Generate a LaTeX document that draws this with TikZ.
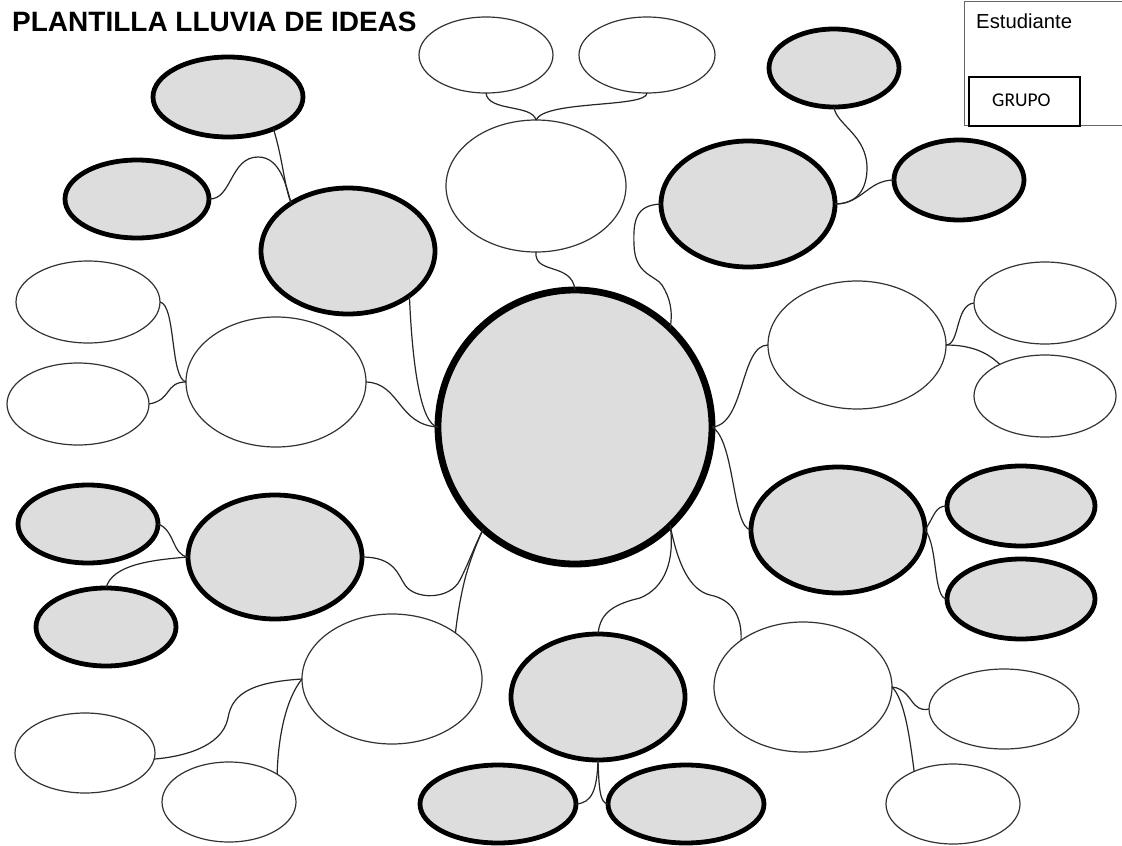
\documentclass[tikz,border=0pt]{standalone}
\usepackage{fontspec}
\setmainfont{Liberation Sans}
\newfontfamily\calib{Carlito}
\usetikzlibrary{shapes.geometric}
\begin{document}
\begin{tikzpicture}[x=1pt,y=-1pt,
  thinell/.style={ellipse, draw=black!80, line width=1.2pt, fill=white, inner sep=0pt, outer sep=0pt},
  grayell/.style={ellipse, draw=black, line width=4.8pt, fill=gray!27, inner sep=0pt, outer sep=0pt},
  link/.style={draw=black!85, line width=1.2pt},
  sz/.style 2 args={minimum width=#1pt, minimum height=#2pt}]
\useasboundingbox (0,0) rectangle (1122,846);
\fill[white] (0,0) rectangle (1122,846);

% title and box
\node[anchor=base west, font=\bfseries\fontsize{28}{32}\selectfont, inner sep=0pt] (title) at (12,31) {PLANTILLA LLUVIA DE IDEAS};
\node[draw=black!60, line width=1pt, minimum width=162pt, minimum height=124pt, anchor=north west, inner sep=0pt] (box) at (964,1) {};
\node[anchor=base west, font=\fontsize{20.3}{24}\selectfont, inner sep=0pt] (stud) at (976,28) {Estudiante};
\node[draw=black, line width=2pt, minimum width=111pt, minimum height=49pt, anchor=north west, inner sep=0pt] (grpbox) at (968,76) {};
\node[anchor=base west, font=\calib\fontsize{19.5}{23}\selectfont, inner sep=0pt] (grp) at (992,106) {GRUPO};

% central
\node[ellipse, draw=black, line width=6.8pt, fill=gray!27, inner sep=0pt, outer sep=0pt, sz={274}{274}] (C) at (575,427) {};

% top
\node[thinell, sz={134}{76}] (TA) at (486,55) {};
\node[thinell, sz={136}{76}] (TB) at (647,55) {};
\node[thinell, sz={180}{132}] (MT) at (536,186) {};
% top left
\node[grayell, sz={150}{80}] (G1) at (228,97) {};
\node[grayell, sz={144}{78}] (G2) at (137,199) {};
\node[grayell, sz={174}{126}] (G3) at (348,251) {};
% top right
\node[grayell, sz={130}{78}] (G4) at (834,68) {};
\node[grayell, sz={174}{126}] (G5) at (748,204) {};
\node[grayell, sz={130}{80}] (G6) at (959,180) {};
% left
\node[thinell, sz={144}{82}] (WLT) at (88,302) {};
\node[thinell, sz={142}{82}] (WLB) at (78,404) {};
\node[thinell, sz={180}{130}] (WLM) at (276,382) {};
% right
\node[thinell, sz={178}{128}] (WR) at (857,345) {};
\node[thinell, sz={142}{82}] (WRT) at (1045,303) {};
\node[thinell, sz={142}{82}] (WRB) at (1045,396) {};
\node[grayell, sz={174}{126}] (GR) at (838,530) {};
\node[grayell, sz={148}{80}] (GRT) at (1021,506) {};
\node[grayell, sz={148}{80}] (GRB) at (1021,599) {};
% lower left
\node[grayell, sz={140}{78}] (GL) at (88,524) {};
\node[grayell, sz={174}{124}] (GL2) at (275,557) {};
\node[grayell, sz={140}{78}] (GL3) at (106,627) {};
\node[thinell, sz={180}{130}] (WL) at (392,679) {};
\node[thinell, sz={140}{80}] (W1) at (85,753) {};
\node[thinell, sz={134}{80}] (W2) at (229,802) {};
% bottom
\node[grayell, sz={174}{126}] (GB) at (598,697) {};
\node[grayell, sz={156}{78}] (GB1) at (498,804) {};
\node[grayell, sz={156}{78}] (GB2) at (686,804) {};
\node[thinell, sz={178}{130}] (WB) at (803,687) {};
\node[thinell, sz={150}{80}] (W3) at (1004,709) {};
\node[thinell, sz={134}{80}] (WBB) at (953,804) {};

% connectors
\draw[link] (TA.south) .. controls (488,112) and (532,104) .. (MT.north);
\draw[link] (TB.south) .. controls (647,108) and (545,100) .. (MT.north);
\draw[link] (MT.south) .. controls (534,275) and (572,262) .. (C.north);
\draw[link] (G5.west) .. controls (636,205) and (633,220) .. (634,245) .. controls (635,275) and (655,275) .. (662,285) .. controls (670,298) and (673,310) .. (C.46);
\draw[link] (G3.-36) .. controls (412,360) and (420,425) .. (C.180);
\draw[link] (WLM.east) .. controls (400,383) and (398,425) .. (C.180);
\draw[link] (WLT.east) .. controls (176,305) and (170,378) .. (WLM.west);
\draw[link] (WLB.east) .. controls (172,400) and (165,382) .. (WLM.west);
\draw[link] (G1.-35) .. controls (283,160) and (284,185) .. (G3.140);
\draw[link] (G2.east) .. controls (232,200) and (230,157) .. (258,157) .. controls (280,157) and (286,185) .. (G3.140);
\draw[link] (G4.south) .. controls (836,125) and (868,135) .. (867,170) .. controls (866,195) and (852,204) .. (G5.east);
\draw[link] (G6.west) .. controls (868,180) and (862,204) .. (G5.east);
\draw[link] (WR.west) .. controls (740,345) and (745,425) .. (C.east);
\draw[link] (WR.east) .. controls (960,345) and (955,305) .. (WRT.west);
\draw[link] (WR.east) .. controls (975,345) and (990,355) .. (WRB.145);
\draw[link] (C.east) .. controls (735,440) and (732,528) .. (GR.west);
\draw[link] (GR.east) .. controls (935,515) and (935,506) .. (GRT.west);
\draw[link] (GR.east) .. controls (938,545) and (933,599) .. (GRB.west);
\draw[link] (GL.east) .. controls (175,530) and (172,555) .. (GL2.west);
\draw[link] (GL3.north) .. controls (112,565) and (150,560) .. (GL2.west);
\draw[link] (GL2.east) .. controls (395,557) and (398,575) .. (405,585) .. controls (415,600) and (450,600) .. (460,580) .. controls (470,560) and (475,545) .. (C.228);
\draw[link] (WL.36) .. controls (458,610) and (462,590) .. (466,575) .. controls (472,555) and (476,545) .. (C.228);
\draw[link] (WL.west) .. controls (255,682) and (232,692) .. (228,718) .. controls (222,748) and (180,757) .. (W1.-5);
\draw[link] (WL.west) .. controls (285,700) and (278,740) .. (W2.30);
\draw[link] (C.-46) .. controls (675,560) and (665,588) .. (640,598) .. controls (610,605) and (600,615) .. (GB.north);
\draw[link] (C.-46) .. controls (678,565) and (690,590) .. (710,595) .. controls (735,600) and (742,620) .. (WB.143);
\draw[link] (GB.south) .. controls (597,790) and (592,803) .. (GB1.east);
\draw[link] (GB.south) .. controls (599,790) and (600,803) .. (GB2.west);
\draw[link] (WB.east) .. controls (905,688) and (910,700) .. (915,705) .. controls (920,710) and (925,710) .. (W3.west);
\draw[link] (WB.east) .. controls (905,700) and (910,740) .. (WBB.140);
\end{tikzpicture}
\end{document}
